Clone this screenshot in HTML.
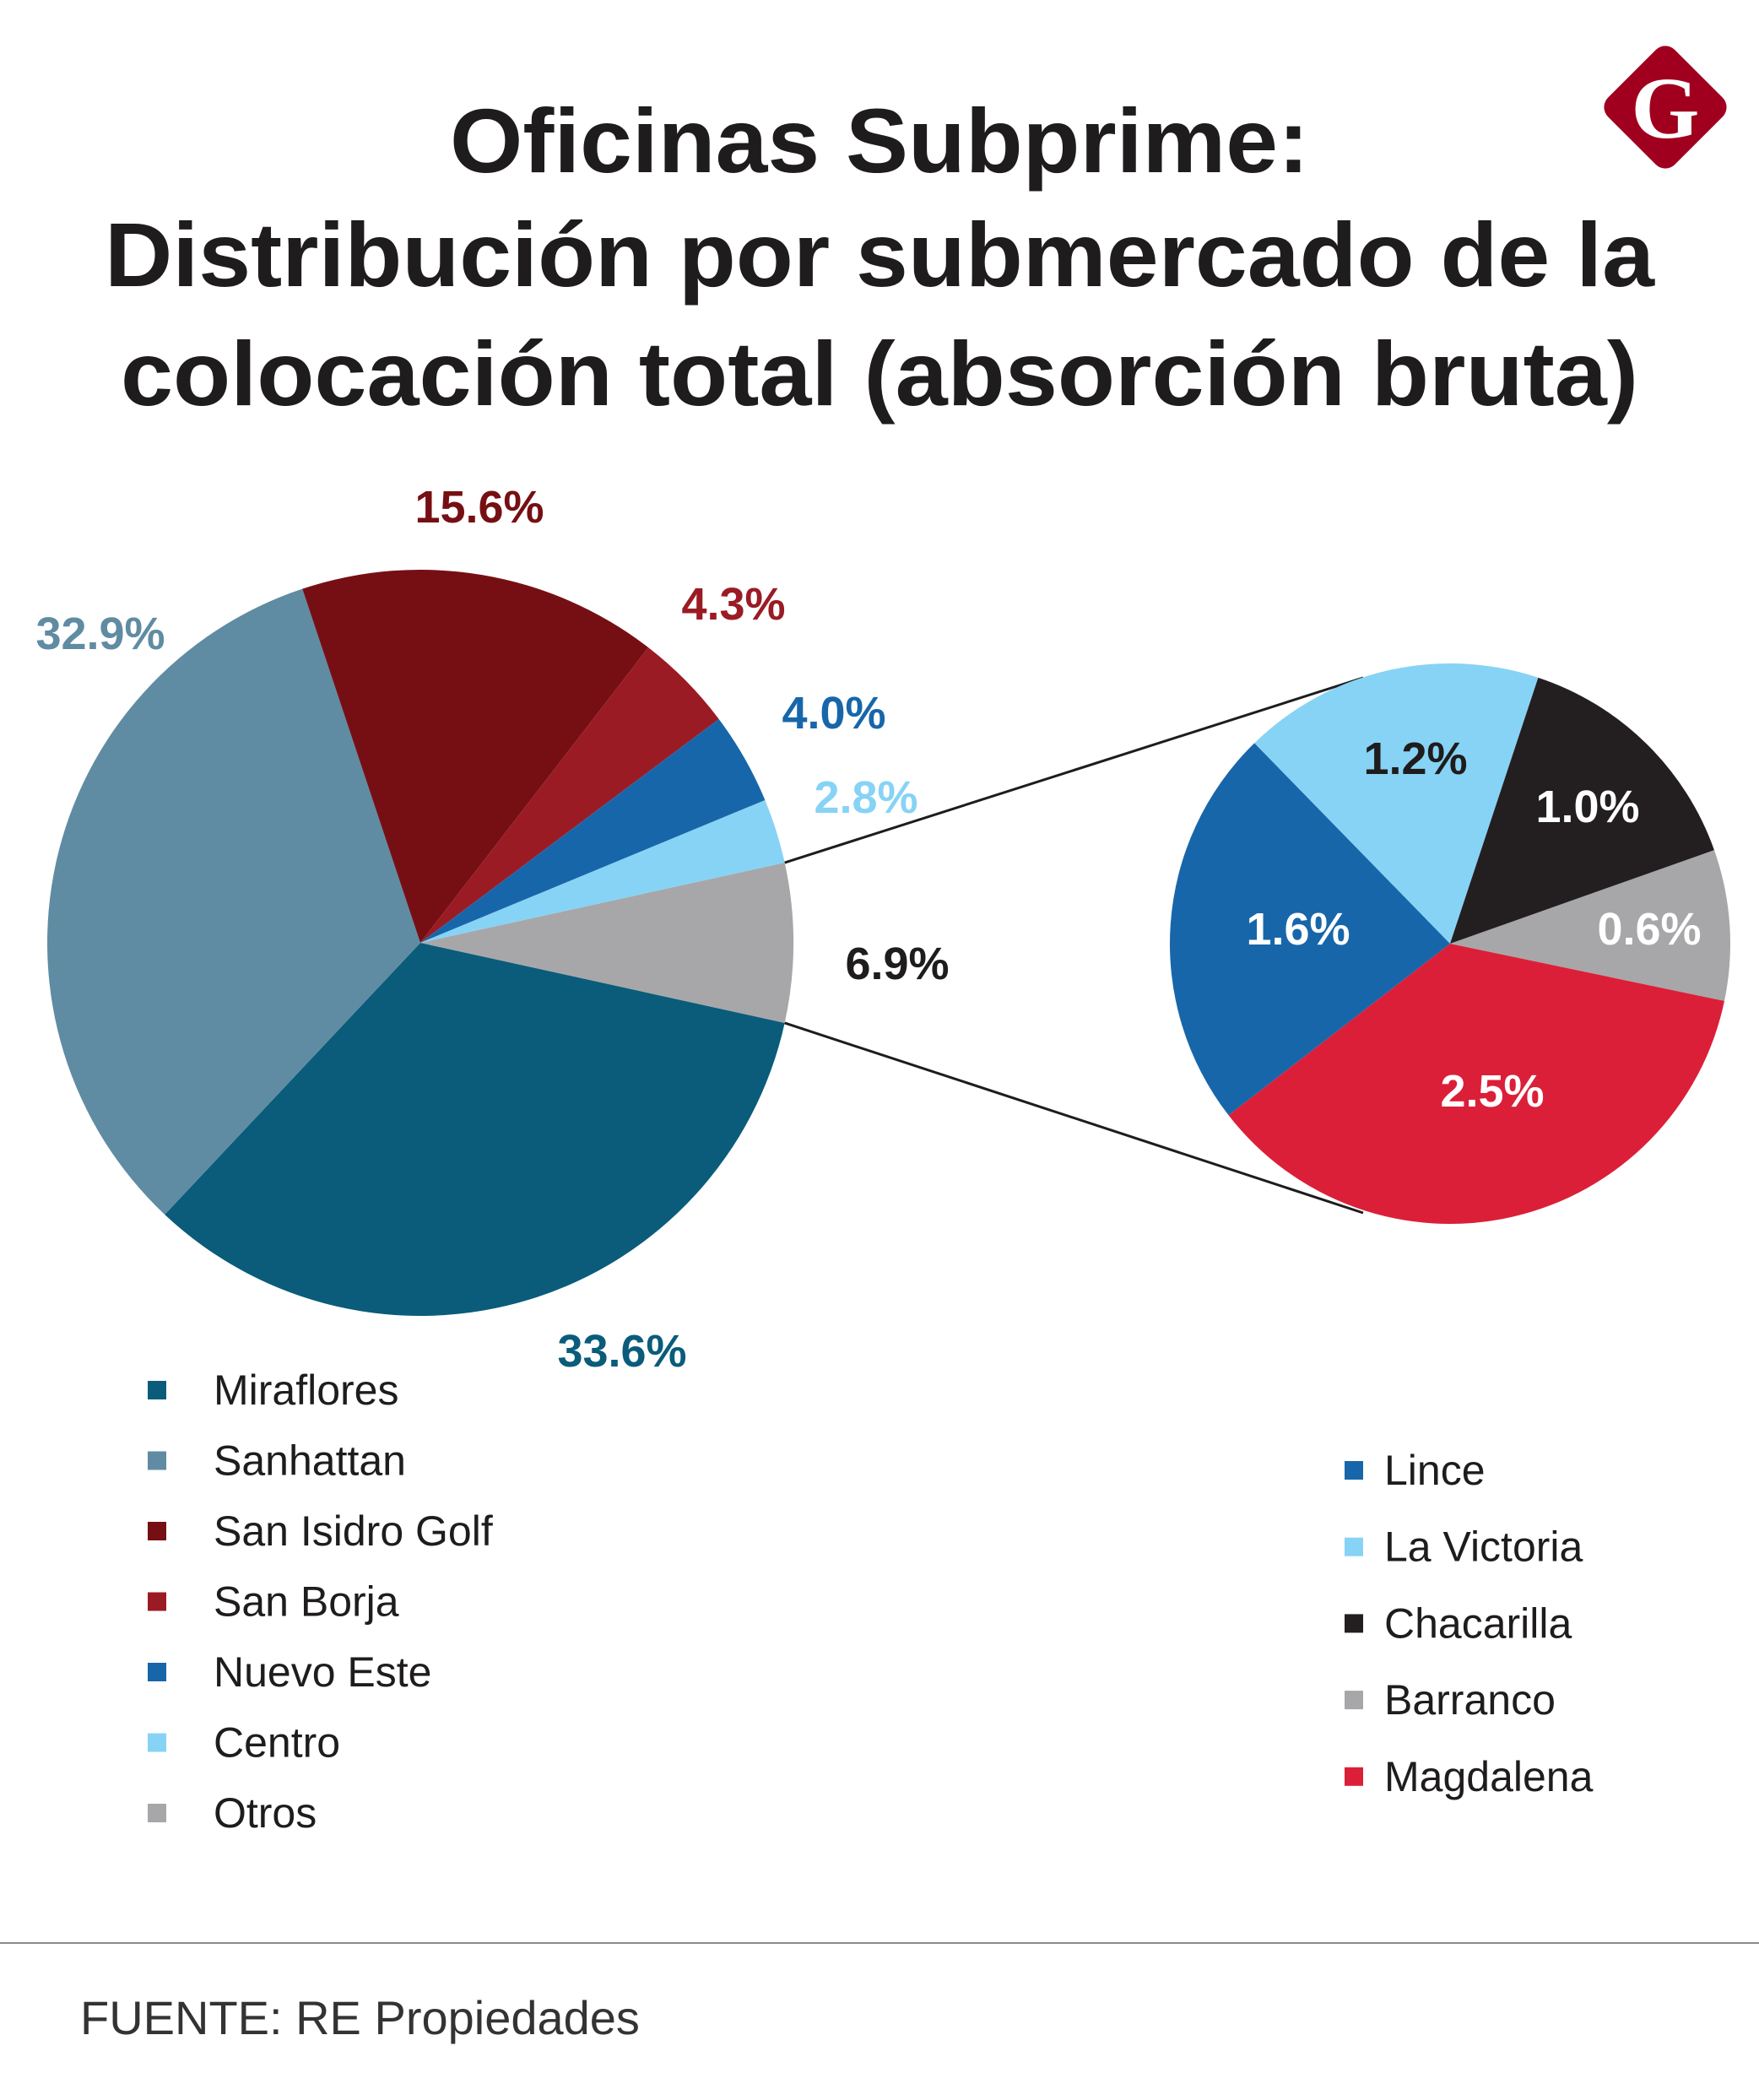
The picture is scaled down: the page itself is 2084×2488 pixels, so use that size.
<!DOCTYPE html>
<html><head><meta charset="utf-8"><style>
html,body{margin:0;padding:0;background:#fff;}
svg{display:block;font-family:"Liberation Sans",sans-serif;}
</style></head><body>
<svg id="chart" width="2084" height="2488" viewBox="0 0 2084 2488" xmlns="http://www.w3.org/2000/svg">
<g font-weight="bold" font-size="108" fill="#1e1c1c" text-anchor="middle">
<text x="1042" y="204" textLength="1018" lengthAdjust="spacingAndGlyphs">Oficinas Subprime:</text>
<text x="1042" y="339" textLength="1836" lengthAdjust="spacingAndGlyphs">Distribución por submercado de la</text>
<text x="1042" y="480" textLength="1798" lengthAdjust="spacingAndGlyphs">colocación total (absorción bruta)</text>
</g>
<g>
<rect x="1917" y="71" width="112" height="112" rx="16" transform="rotate(45 1973 127)" fill="#a0001e"/>
<text x="1973" y="163" text-anchor="middle" font-family="Liberation Serif,serif" font-weight="bold" font-size="104" fill="#fff">G</text>
</g>
<g id="connectors"></g>
<g id="mainPie"></g>
<g id="subPie"></g>
<g id="legends"></g>
<line x1="0" y1="2302" x2="2084" y2="2302" stroke="#8a8a8a" stroke-width="2"/>
<text x="95" y="2410" font-size="56" fill="#333">FUENTE: RE Propiedades</text>
</svg>
<script>
const mainCategories = ["Otros","Miraflores","Sanhattan","San Isidro Golf","San Borja","Nuevo Este","Centro"];
const mainValues = [6.9,33.6,32.9,15.6,4.3,4.0,2.8];
const mainLabels = ["6.9%","33.6%","32.9%","15.6%","4.3%","4.0%","2.8%"];
const mainColors = ["#a7a7a9","#0a5c7a","#5f8ca3","#760f13","#9b1b24","#1866aa","#87d3f5"];
const mainLabelColors = ["#1e1c1c","#0a5c7a","#5f8ca3","#760f13","#9b1b24","#1866aa","#87d3f5"];
const mainLabelPos = [[1063,1142],[737,1601],[119,751],[568,601],[869,716],[988,845],[1026,945]];
const legendLeftOrder = ["Miraflores","Sanhattan","San Isidro Golf","San Borja","Nuevo Este","Centro","Otros"];

const subCategories = ["Barranco","Magdalena","Lince","La Victoria","Chacarilla"];
const subValues = [0.6,2.5,1.6,1.2,1.0];
const subLabels = ["0.6%","2.5%","1.6%","1.2%","1.0%"];
const subColors = ["#a7a7a9","#dc1f38","#1866aa","#87d3f5","#231f20"];
const subLabelColors = ["#fff","#fff","#fff","#1e1c1c","#fff"];
const subLabelPos = [[1954,1101],[1768,1293],[1538,1101],[1677,899],[1881,956]];
const legendRightOrder = ["Lince","La Victoria","Chacarilla","Barranco","Magdalena"];

const NS = "http://www.w3.org/2000/svg";
function mk(tag, attrs, parent){const e=document.createElementNS(NS,tag);for(const k in attrs)e.setAttribute(k,attrs[k]);parent.appendChild(e);return e;}
function pt(cx,cy,r,deg){const a=deg*Math.PI/180;return [cx+r*Math.cos(a),cy+r*Math.sin(a)];}
function drawPie(g,cx,cy,r,start,vals,colors,cats,labels,lpos,lcol,fs){
  const total=vals.reduce((a,b)=>a+b,0);let ang=start;const edges=[];
  vals.forEach((v,i)=>{
    const sweep=v/total*360;const p1=pt(cx,cy,r,ang),p2=pt(cx,cy,r,ang+sweep);
    const path=mk("path",{d:`M${cx},${cy} L${p1[0]},${p1[1]} A${r},${r} 0 ${sweep>180?1:0} 1 ${p2[0]},${p2[1]} Z`,fill:colors[i]},g);
    
    
    edges.push([ang,ang+sweep]);ang+=sweep;
  });
  labels.forEach((l,i)=>{
    const t=mk("text",{x:lpos[i][0],y:lpos[i][1],"text-anchor":"middle","dominant-baseline":"central","font-weight":"bold","font-size":fs,fill:lcol[i]},g);
    t.textContent=l;
    
    
  });
  return edges;
}
const mainStart=-(mainValues[0]/mainValues.reduce((a,b)=>a+b,0))*180;
const edges=drawPie(document.getElementById('mainPie'),498,1117,442,mainStart,mainValues,mainColors,mainCategories,mainLabels,mainLabelPos,mainLabelColors,54);
const subStart=-19.5;
drawPie(document.getElementById('subPie'),1718,1118,332,subStart,subValues,subColors,subCategories,subLabels,subLabelPos,subLabelColors,54);
const cg=document.getElementById('connectors');
const a=pt(498,1117,442,edges[0][0]),b=pt(498,1117,442,edges[0][1]);
const l1=mk("line",{x1:a[0],y1:a[1],x2:1615,y2:803,stroke:"#1e1c1c","stroke-width":3},cg);


const l2=mk("line",{x1:b[0],y1:b[1],x2:1615,y2:1437,stroke:"#1e1c1c","stroke-width":3},cg);


const lg=document.getElementById('legends');
legendLeftOrder.forEach((c,i)=>{
  const idx=mainCategories.indexOf(c);const y=1647+i*83.5;
  const s=mk("rect",{x:175,y:y-11,width:22,height:22,fill:mainColors[idx]},lg);
  
  
  const t=mk("text",{x:253,y:y,"dominant-baseline":"central","font-size":50,fill:"#1e1c1c"},lg);
  t.textContent=c;
  
  
});
legendRightOrder.forEach((c,i)=>{
  const idx=subCategories.indexOf(c);const y=1742+i*90.7;
  const s=mk("rect",{x:1593,y:y-11,width:22,height:22,fill:subColors[idx]},lg);
  
  
  const t=mk("text",{x:1640,y:y,"dominant-baseline":"central","font-size":50,fill:"#1e1c1c"},lg);
  t.textContent=c;
  
  
});
</script>
</body></html>
